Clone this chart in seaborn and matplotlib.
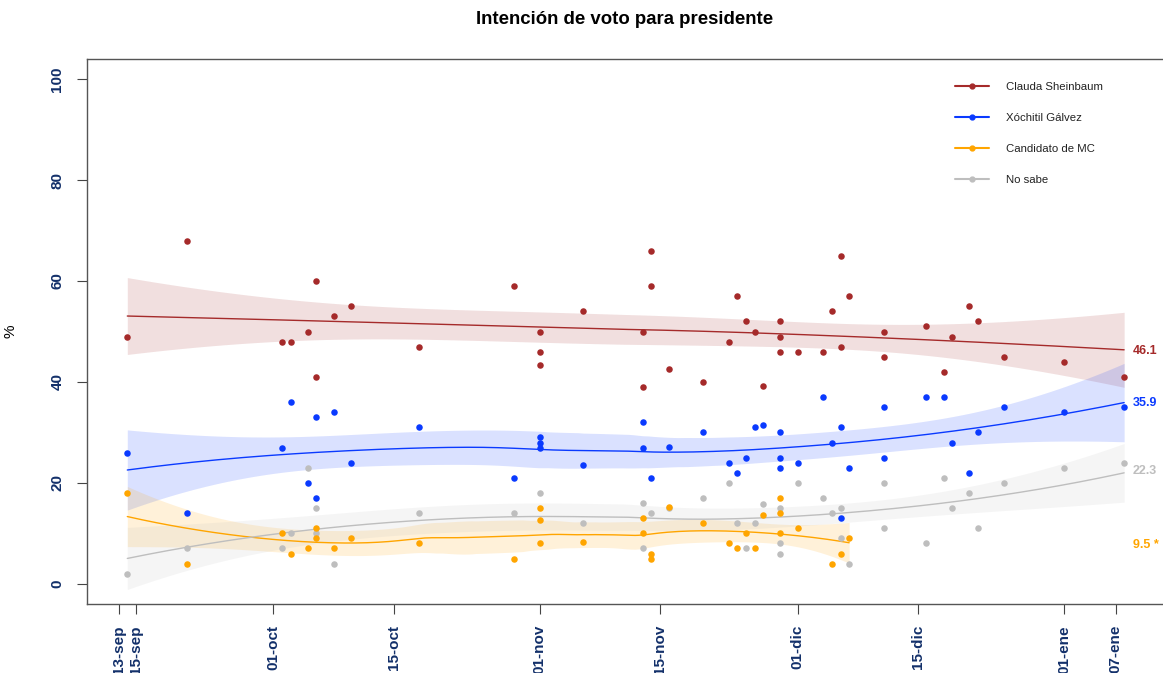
import numpy as np
import pandas as pd
import matplotlib
matplotlib.use("Agg")
import matplotlib.pyplot as plt
from matplotlib.lines import Line2D
import seaborn as sns

# ---- values ----
shein_dates = ["2023-09-14", "2023-09-21", "2023-10-02", "2023-10-03", "2023-10-05", "2023-10-06",
               "2023-10-06", "2023-10-08", "2023-10-10", "2023-10-18", "2023-10-29", "2023-11-01",
               "2023-11-01", "2023-11-01", "2023-11-06", "2023-11-13", "2023-11-13", "2023-11-14",
               "2023-11-14", "2023-11-16", "2023-11-20", "2023-11-23", "2023-11-24", "2023-11-25",
               "2023-11-26", "2023-11-27", "2023-11-29", "2023-11-29", "2023-11-29", "2023-12-01",
               "2023-12-04", "2023-12-05", "2023-12-06", "2023-12-06", "2023-12-07", "2023-12-11",
               "2023-12-11", "2023-12-16", "2023-12-18", "2023-12-19", "2023-12-21", "2023-12-22",
               "2023-12-25", "2024-01-01", "2024-01-08"]
shein_vals = [49, 68, 48, 48, 50, 60, 41, 53, 55, 47, 59, 50, 46, 43.4, 54, 50, 39, 66, 59, 42.5,
              40, 48, 57, 52, 50, 39.2, 52, 49, 46, 46, 46, 54, 65, 47, 57, 50, 45, 51, 42, 49,
              55, 52, 45, 44, 41]

galvez_dates = ["2023-09-14", "2023-09-21", "2023-10-02", "2023-10-03", "2023-10-05", "2023-10-06",
                "2023-10-06", "2023-10-08", "2023-10-10", "2023-10-18", "2023-10-29", "2023-11-01",
                "2023-11-01", "2023-11-01", "2023-11-06", "2023-11-13", "2023-11-13", "2023-11-14",
                "2023-11-16", "2023-11-20", "2023-11-23", "2023-11-24", "2023-11-25", "2023-11-26",
                "2023-11-27", "2023-11-29", "2023-11-29", "2023-11-29", "2023-12-01", "2023-12-04",
                "2023-12-05", "2023-12-06", "2023-12-06", "2023-12-07", "2023-12-11", "2023-12-11",
                "2023-12-16", "2023-12-18", "2023-12-19", "2023-12-21", "2023-12-22", "2023-12-25",
                "2024-01-01", "2024-01-08"]
galvez_vals = [26, 14, 27, 36, 20, 33, 17, 34, 24, 31, 21, 29, 28, 27, 23.5, 32, 27, 21, 27.2, 30,
               24, 22, 25, 31, 31.4, 30, 25, 23, 24, 37, 28, 31, 13, 23, 35, 25, 37, 37, 28, 22,
               30, 35, 34, 35]

mc_dates = ["2023-09-14", "2023-09-21", "2023-10-02", "2023-10-03", "2023-10-05", "2023-10-06",
            "2023-10-06", "2023-10-08", "2023-10-10", "2023-10-18", "2023-10-29", "2023-11-01",
            "2023-11-01", "2023-11-01", "2023-11-06", "2023-11-13", "2023-11-13", "2023-11-14",
            "2023-11-14", "2023-11-16", "2023-11-20", "2023-11-23", "2023-11-24", "2023-11-25",
            "2023-11-26", "2023-11-27", "2023-11-29", "2023-11-29", "2023-11-29", "2023-12-01",
            "2023-12-05", "2023-12-06", "2023-12-07"]
mc_vals = [18, 4, 10, 6, 7, 11, 9, 7, 9, 8, 5, 15, 12.7, 8, 8.3, 13, 10, 6, 5, 15.2, 12, 8, 7, 10,
           7, 13.6, 17, 14, 10, 11, 4, 6, 9]

nosabe_dates = ["2023-09-14", "2023-09-21", "2023-10-02", "2023-10-03", "2023-10-05", "2023-10-06",
                "2023-10-06", "2023-10-08", "2023-10-18", "2023-10-29", "2023-11-01", "2023-11-06",
                "2023-11-13", "2023-11-13", "2023-11-14", "2023-11-16", "2023-11-20", "2023-11-23",
                "2023-11-24", "2023-11-25", "2023-11-26", "2023-11-27", "2023-11-29", "2023-11-29",
                "2023-11-29", "2023-12-01", "2023-12-04", "2023-12-05", "2023-12-06", "2023-12-06",
                "2023-12-07", "2023-12-11", "2023-12-11", "2023-12-16", "2023-12-18", "2023-12-19",
                "2023-12-21", "2023-12-22", "2023-12-25", "2024-01-01", "2024-01-08"]
nosabe_vals = [2, 7, 7, 10, 23, 15, 10, 4, 14, 14, 18, 12, 16, 7, 14, 15, 17, 20, 12, 7, 12, 15.8,
               15, 8, 6, 20, 17, 14, 15, 9, 4, 20, 11, 8, 21, 15, 18, 11, 20, 23, 24]

names = ["Clauda Sheinbaum", "Xóchitil Gálvez", "Candidato de MC", "No sabe"]
end_labels = ["46.1", "35.9", "9.5 *", "22.3"]

tick_dates = ["2023-09-13", "2023-09-15", "2023-10-01", "2023-10-15", "2023-11-01",
              "2023-11-15", "2023-12-01", "2023-12-15", "2024-01-01", "2024-01-07"]
tick_labels = ["13-sep", "15-sep", "01-oct", "15-oct", "01-nov",
               "15-nov", "01-dic", "15-dic", "01-ene", "07-ene"]

colors = ["#A52A2A", "#0A3AFF", "#FFA500", "#BEBEBE"]
spans = [2.0, 0.9, 0.75, 1.0]   # loess smoothing span per series
navy = "#13306A"
origin = pd.Timestamp("2023-09-13")


def loess(x, y, xout, span=0.75):
    # local quadratic fit with tricube weights (R loess style)
    n = len(x)
    q = int(np.floor(n * min(span, 1.0)))
    rows = []
    for x0 in xout:
        d = np.abs(x - x0)
        if span <= 1:
            h = np.sort(d)[q - 1] * 1.000001
        else:
            h = d.max() * span
        w = np.clip(1 - (d / h) ** 3, 0, None) ** 3
        X = np.column_stack([np.ones(n), x - x0, (x - x0) ** 2])
        XtW = X.T * w
        rows.append(np.linalg.solve(XtW @ X, XtW)[0])
    return np.array(rows)


def smooth(dates, vals, span):
    x = ((pd.to_datetime(dates) - origin) / pd.Timedelta(days=1)).to_numpy()
    y = np.asarray(vals, float)
    L = loess(x, y, x, span)
    res = y - L @ y
    M = np.eye(len(x)) - L
    d1 = np.trace(M.T @ M)
    s = np.sqrt(np.sum(res ** 2) / d1)
    grid = np.linspace(x.min(), x.max(), 200)
    Lg = loess(x, y, grid, span)
    fit = Lg @ y
    se = s * np.sqrt(np.sum(Lg ** 2, axis=1))
    gdates = origin + pd.to_timedelta(grid, unit="D")
    return gdates, fit, fit - 2.0 * se, fit + 2.0 * se


sns.set_theme(style="white")
plt.rcParams["font.family"] = ["Liberation Sans", "DejaVu Sans"]
plt.rcParams["text.color"] = "black"

fig = plt.figure(figsize=(11.63, 6.73), dpi=100)
ax = fig.add_axes([87 / 1163, 69 / 673, 1099 / 1163, 545 / 673])

series = [(shein_dates, shein_vals), (galvez_dates, galvez_vals),
          (mc_dates, mc_vals), (nosabe_dates, nosabe_vals)]

for (dts, vals), c, sp in zip(series, colors, spans):
    g, fit, lo, hi = smooth(dts, vals, sp)
    ax.fill_between(g, lo, hi, color=c, alpha=0.15, linewidth=0, zorder=1)
    ax.plot(g, fit, color=c, lw=1, zorder=2)

for i in [3, 2, 1, 0]:
    dts, vals = series[i]
    sns.scatterplot(x=pd.to_datetime(dts), y=vals, color=colors[i], s=22,
                    linewidth=0, ax=ax, zorder=3)

label_x = pd.Timestamp("2024-01-09")
for lab, c in zip(end_labels, colors):
    yv = float(lab.split()[0]) if c != "#FFA500" else 7.7
    ax.text(label_x, yv, lab, color=c, fontsize=9, fontweight="bold",
            ha="left", va="center")

ax.set_xlim(origin - pd.Timedelta(days=3.69), origin + pd.Timedelta(days=124.2))
ax.set_ylim(-4, 104)
ax.set_yticks([0, 20, 40, 60, 80, 100])
ax.set_yticklabels(["0", "20", "40", "60", "80", "100"], rotation=90, va="center",
                   fontsize=11, fontweight="bold", color=navy)
ax.set_xticks(pd.to_datetime(tick_dates))
ax.set_xticklabels(tick_labels, rotation=90, ha="center", va="top",
                   fontsize=11, fontweight="bold", color=navy)
ax.tick_params(axis="both", bottom=True, left=True, length=7.2, width=0.8,
               color="#444444", direction="out")
ax.tick_params(axis="x", pad=8)
ax.tick_params(axis="y", pad=9)
ax.set_xlabel("")
ax.set_ylabel("%", fontsize=11, color="black")
ax.yaxis.set_label_coords(-0.063, 0.5)
for sp in ax.spines.values():
    sp.set_color("#555555")
    sp.set_linewidth(1.0)
ax.grid(False)

handles = [Line2D([0], [0], color=c, lw=1.5, marker="o", markersize=3.5) for c in colors]
ax.legend(handles, names, loc="upper left", bbox_to_anchor=(955 / 1163, 1 - 82 / 673),
          bbox_transform=fig.transFigure, frameon=False, fontsize=8.2,
          handlelength=3.0, handletextpad=1.45, labelspacing=1.85,
          borderpad=0, borderaxespad=0, labelcolor="#222222")

fig.text(625 / 1163, 1 - 19 / 673, "Intención de voto para presidente",
         ha="center", va="center", fontsize=13.4, fontweight="bold", color="black")

fig.savefig("out.png", dpi=100)
